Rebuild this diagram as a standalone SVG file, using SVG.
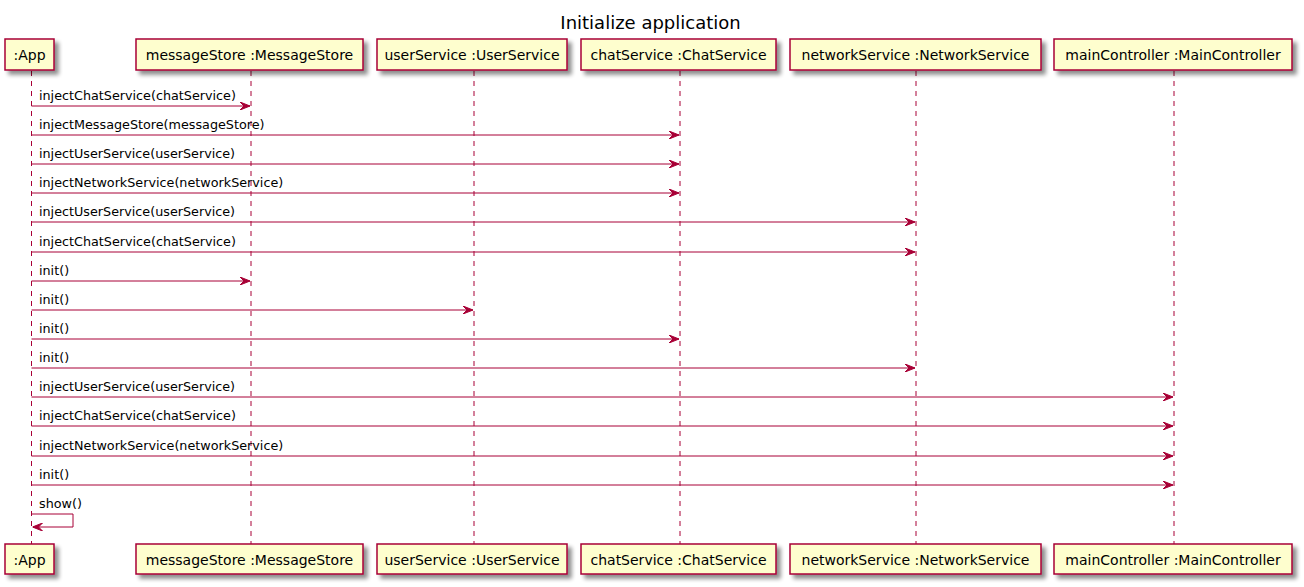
<svg xmlns="http://www.w3.org/2000/svg" width="1304" height="587" viewBox="0 0 1304 587">
<defs>
<filter id="sh" x="-10%" y="-20%" width="130%" height="160%">
<feGaussianBlur in="SourceAlpha" stdDeviation="2"/>
<feOffset dx="4" dy="4" result="b"/>
<feComponentTransfer><feFuncA type="linear" slope="0.45"/></feComponentTransfer>
<feMerge><feMergeNode/><feMergeNode in="SourceGraphic"/></feMerge>
</filter>
<marker id="ah" viewBox="0 0 10 8" refX="10" refY="4" markerWidth="10" markerHeight="8" markerUnits="userSpaceOnUse" orient="auto">
<polygon points="0,0 10,4 0,8 4,4" fill="#A80036" stroke="#A80036" stroke-width="1"/>
</marker>
</defs>
<style>
.box{fill:#FEFECE;stroke:#A80036;stroke-width:1.5}
.pt{font-family:"DejaVu Sans","Liberation Sans",sans-serif;font-size:14px;fill:#000;text-anchor:middle}
.mt{font-family:"DejaVu Sans","Liberation Sans",sans-serif;font-size:12.75px;fill:#000}
.life{stroke:#A80036;stroke-width:1;stroke-dasharray:5,5;fill:none}
.msg{stroke:#A80036;stroke-width:1;fill:none;marker-end:url(#ah)}
</style>
<rect width="1304" height="587" fill="#FFFFFF"/>
<text x="650.5" y="29" font-family="DejaVu Sans, Liberation Sans, sans-serif" font-size="18" text-anchor="middle">Initialize application</text>
<g id="lifelines">
<line class="life" x1="31.5" y1="71" x2="31.5" y2="544"/>
<line class="life" x1="251" y1="71" x2="251" y2="544"/>
<line class="life" x1="474" y1="71" x2="474" y2="544"/>
<line class="life" x1="680" y1="71" x2="680" y2="544"/>
<line class="life" x1="916" y1="71" x2="916" y2="544"/>
<line class="life" x1="1174" y1="71" x2="1174" y2="544"/>
</g>
<g id="app">
<rect class="box" x="5" y="39" width="49" height="31" filter="url(#sh)"/>
<text class="pt" x="29.5" y="60">:App</text>
<rect class="box" x="5" y="544" width="49" height="30" filter="url(#sh)"/>
<text class="pt" x="29.5" y="565">:App</text>
</g>
<g id="messageStore">
<rect class="box" x="136" y="39" width="227" height="31" filter="url(#sh)"/>
<text class="pt" x="249.5" y="60">messageStore :MessageStore</text>
<rect class="box" x="136" y="544" width="227" height="30" filter="url(#sh)"/>
<text class="pt" x="249.5" y="565">messageStore :MessageStore</text>
</g>
<g id="userService">
<rect class="box" x="377" y="39" width="190" height="31" filter="url(#sh)"/>
<text class="pt" x="472" y="60">userService :UserService</text>
<rect class="box" x="377" y="544" width="190" height="30" filter="url(#sh)"/>
<text class="pt" x="472" y="565">userService :UserService</text>
</g>
<g id="chatService">
<rect class="box" x="581" y="39" width="195" height="31" filter="url(#sh)"/>
<text class="pt" x="678.5" y="60">chatService :ChatService</text>
<rect class="box" x="581" y="544" width="195" height="30" filter="url(#sh)"/>
<text class="pt" x="678.5" y="565">chatService :ChatService</text>
</g>
<g id="networkService">
<rect class="box" x="790" y="39" width="251" height="31" filter="url(#sh)"/>
<text class="pt" x="915.5" y="60">networkService :NetworkService</text>
<rect class="box" x="790" y="544" width="251" height="30" filter="url(#sh)"/>
<text class="pt" x="915.5" y="565">networkService :NetworkService</text>
</g>
<g id="mainController">
<rect class="box" x="1054" y="39" width="238" height="31" filter="url(#sh)"/>
<text class="pt" x="1173" y="60">mainController :MainController</text>
<rect class="box" x="1054" y="544" width="238" height="30" filter="url(#sh)"/>
<text class="pt" x="1173" y="565">mainController :MainController</text>
</g>
<g id="connectors">
<line class="msg" x1="31.5" y1="106" x2="250" y2="106"/>
<text class="mt" x="39" y="100">injectChatService(chatService)</text>
<line class="msg" x1="31.5" y1="135" x2="679" y2="135"/>
<text class="mt" x="39" y="129">injectMessageStore(messageStore)</text>
<line class="msg" x1="31.5" y1="164" x2="679" y2="164"/>
<text class="mt" x="39" y="158">injectUserService(userService)</text>
<line class="msg" x1="31.5" y1="193" x2="679" y2="193"/>
<text class="mt" x="39" y="187">injectNetworkService(networkService)</text>
<line class="msg" x1="31.5" y1="222" x2="915" y2="222"/>
<text class="mt" x="39" y="216">injectUserService(userService)</text>
<line class="msg" x1="31.5" y1="252" x2="915" y2="252"/>
<text class="mt" x="39" y="246">injectChatService(chatService)</text>
<line class="msg" x1="31.5" y1="281" x2="250" y2="281"/>
<text class="mt" x="39" y="275">init()</text>
<line class="msg" x1="31.5" y1="310" x2="473" y2="310"/>
<text class="mt" x="39" y="304">init()</text>
<line class="msg" x1="31.5" y1="339" x2="679" y2="339"/>
<text class="mt" x="39" y="333">init()</text>
<line class="msg" x1="31.5" y1="368" x2="915" y2="368"/>
<text class="mt" x="39" y="362">init()</text>
<line class="msg" x1="31.5" y1="397" x2="1173" y2="397"/>
<text class="mt" x="39" y="391">injectUserService(userService)</text>
<line class="msg" x1="31.5" y1="426" x2="1173" y2="426"/>
<text class="mt" x="39" y="420">injectChatService(chatService)</text>
<line class="msg" x1="31.5" y1="456" x2="1173" y2="456"/>
<text class="mt" x="39" y="450">injectNetworkService(networkService)</text>
<line class="msg" x1="31.5" y1="485" x2="1173" y2="485"/>
<text class="mt" x="39" y="479">init()</text>
<polyline class="msg" points="31.5,514 73,514 73,527 32.5,527"/>
<text class="mt" x="39" y="508">show()</text>
</g>
</svg>
